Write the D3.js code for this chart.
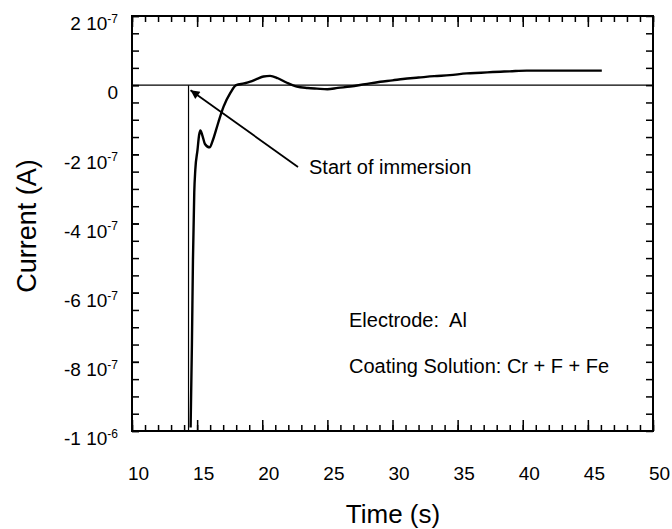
<!DOCTYPE html>
<meta charset="utf-8">
<head>
  <title>Current vs time</title>
</head>

<style>
body { margin: 0; background: white; }
text {
  font-family: "Liberation Sans", Arial, sans-serif;
  fill: black;
}
.axis path { display: none; }
.axis line { stroke: black; stroke-width: 1.5px; }
.axis text { font-size: 19px; fill: black; font-family: "Liberation Sans", Arial, sans-serif; }
</style>

<body>
  <svg width="672" height="529"></svg>

  <script src="https://cdnjs.cloudflare.com/ajax/libs/d3/7.8.5/d3.min.js"></script>
  <script>
// measured trace, time in s, current in A
var time = [14.50, 14.60, 14.68, 14.78, 14.86, 15.03, 15.15, 15.25, 15.40, 15.60, 15.96, 16.20, 16.45, 16.65,
  17.03, 17.54, 18.00, 18.60, 19.08, 19.60, 20.10, 20.60, 21.20, 21.90, 22.66, 23.50, 24.20, 25.00,
  25.80, 26.75, 27.90, 29.06, 30.00, 30.80, 32.00, 33.20, 34.40, 35.70, 36.80, 37.70, 39.00, 40.30,
  42.00, 43.90, 46.07];
var current = [-9.9e-7, -7.5e-7, -5.05e-7, -3.1e-7, -2.45e-7, -1.87e-7, -1.45e-7, -1.31e-7, -1.45e-7, -1.7e-7, -1.8e-7, -1.6e-7, -1.3e-7, -1.05e-7,
  -6.2e-8, -2.3e-8, 0, 5e-9, 1e-8, 1.8e-8, 2.5e-8, 2.7e-8, 2e-8, 7e-9, -4e-9, -8e-9, -1e-8, -1.2e-8,
  -8e-9, -4e-9, 3e-9, 1e-8, 1.4e-8, 1.8e-8, 2.2e-8, 2.6e-8, 2.9e-8, 3.4e-8, 3.6e-8, 3.8e-8, 4e-8, 4.2e-8,
  4.2e-8, 4.2e-8, 4.2e-8];

var immersionTime = 14.34;

var xTicks = [10, 15, 20, 25, 30, 35, 40, 45, 50];
var yTicks = [2e-7, 0, -2e-7, -4e-7, -6e-7, -8e-7, -1e-6];
var yTickLabels = [["2 10", "-7"], ["0", ""], ["-2 10", "-7"], ["-4 10", "-7"], ["-6 10", "-7"], ["-8 10", "-7"], ["-1 10", "-6"]];

// plot box (window.top is reserved, so prefixed names)
var plotLeft = 132, plotRight = 653, plotTop = 16, plotBottom = 431;

var x = d3.scaleLinear().domain([10, 50]).range([plotLeft, plotRight]);
var y = d3.scaleLinear().domain([-1e-6, 2e-7]).range([plotBottom, plotTop]);

var svg = d3.select('svg');

// minor ticks, all four sides, pointing inward
var xMinor = d3.range(10, 51, 1);
var yMinor = d3.range(-20, 5, 1).map(function(d) { return d * 5e-8; });

svg.append('g').attr('class', 'axis')
  .attr('transform', 'translate(0,' + plotBottom + ')')
  .call(d3.axisBottom(x).tickValues(xMinor).tickSize(-6).tickFormat(''));
svg.append('g').attr('class', 'axis')
  .attr('transform', 'translate(0,' + plotTop + ')')
  .call(d3.axisTop(x).tickValues(xMinor).tickSize(-6).tickFormat(''));
svg.append('g').attr('class', 'axis')
  .attr('transform', 'translate(' + plotLeft + ',0)')
  .call(d3.axisLeft(y).tickValues(yMinor).tickSize(-7).tickFormat(''));
svg.append('g').attr('class', 'axis')
  .attr('transform', 'translate(' + plotRight + ',0)')
  .call(d3.axisRight(y).tickValues(yMinor).tickSize(-7).tickFormat(''));

// major ticks
svg.append('g').attr('class', 'axis')
  .attr('transform', 'translate(0,' + plotTop + ')')
  .call(d3.axisTop(x).tickValues(xTicks).tickSize(-11).tickFormat(''));
var xAxis = svg.append('g').attr('class', 'axis')
  .attr('transform', 'translate(0,' + plotBottom + ')')
  .call(d3.axisBottom(x).tickValues(xTicks).tickSize(-11).tickPadding(36).tickFormat(d3.format('d')));
xAxis.selectAll('text').attr('dx', 6);

var yAxis = svg.append('g').attr('class', 'axis')
  .attr('transform', 'translate(' + plotLeft + ',0)')
  .call(d3.axisLeft(y).tickValues(yTicks).tickSize(-7).tickPadding(14).tickFormat(''));
yAxis.selectAll('.tick text')
  .attr('dy', '0.72em')
  .each(function(d, i) {
    var t = d3.select(this);
    t.append('tspan').text(yTickLabels[i][0]);
    t.append('tspan').attr('dy', '-0.6em').attr('font-size', '12px').text(yTickLabels[i][1]);
  });

// frame
svg.append('rect')
  .attr('x', plotLeft).attr('y', plotTop)
  .attr('width', plotRight - plotLeft).attr('height', plotBottom - plotTop)
  .attr('fill', 'none').attr('stroke', 'black').attr('stroke-width', 2);

// zero line
svg.append('line')
  .attr('x1', x(10)).attr('x2', x(50))
  .attr('y1', y(0)).attr('y2', y(0))
  .attr('stroke', 'black').attr('stroke-width', 1.3);

// immersion line
svg.append('line')
  .attr('x1', x(immersionTime)).attr('x2', x(immersionTime))
  .attr('y1', y(0)).attr('y2', y(-1e-6))
  .attr('stroke', 'black').attr('stroke-width', 1.2);

var line = d3.line()
  .x(function(d, i) { return x(time[i]); })
  .y(function(d) { return y(d); })
  .curve(d3.curveMonotoneX);

svg.append('path')
  .datum(current)
  .attr('d', line)
  .attr('fill', 'none')
  .attr('stroke', 'black')
  .attr('stroke-width', 2.4);

// arrow annotation
svg.append('defs').append('marker')
  .attr('id', 'head')
  .attr('viewBox', '0 0 10 10')
  .attr('refX', 10).attr('refY', 5)
  .attr('markerWidth', 14).attr('markerHeight', 9)
  .attr('markerUnits', 'userSpaceOnUse')
  .attr('orient', 'auto')
  .append('path').attr('d', 'M0,0L10,5L0,10z').attr('fill', 'black');

svg.append('line')
  .attr('x1', 298).attr('y1', 167)
  .attr('x2', x(immersionTime) + 2).attr('y2', y(0) + 5)
  .attr('stroke', 'black').attr('stroke-width', 1.8)
  .attr('marker-end', 'url(#head)');

svg.append('text').attr('x', 309).attr('y', 174).style('font-size', '20px').text('Start of immersion');
svg.append('text').attr('x', 349).attr('y', 327).style('font-size', '20px').text('Electrode:\u00a0 Al');
svg.append('text').attr('x', 349).attr('y', 373).style('font-size', '20px').text('Coating Solution: Cr + F + Fe');

// axis titles
svg.append('text')
  .attr('x', 393).attr('y', 523)
  .attr('text-anchor', 'middle')
  .style('font-size', '26px')
  .text('Time (s)');

svg.append('text')
  .attr('transform', 'translate(36,226) rotate(-90)')
  .attr('text-anchor', 'middle')
  .style('font-size', '27px')
  .text('Current (A)');
  </script>
</body>
</html>
